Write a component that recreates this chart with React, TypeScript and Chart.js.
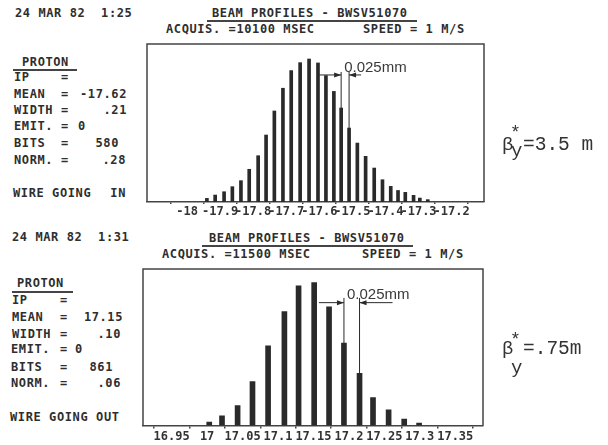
import React, { useEffect, useRef } from "react";
import { Chart, registerables } from "chart.js";

Chart.register(...registerables);

// ---------- data ----------
const topPositions = [
  -17.94, -17.915, -17.888, -17.863, -17.837, -17.812, -17.785, -17.761, -17.736, -17.71,
  -17.685, -17.658, -17.631, -17.604, -17.58, -17.556, -17.534, -17.51, -17.485, -17.46,
  -17.434, -17.409, -17.384, -17.362, -17.34, -17.315, -17.296, -17.272,
];
const topCounts = [
  2.3, 4.4, 6.5, 9.7, 13.5, 20.7, 29.3, 42.4, 57.6, 72.0,
  83.1, 88.2, 90.5, 88.0, 80.0, 70.0, 59.5, 46.8, 37.3, 28.9,
  21.5, 14.1, 9.9, 7.3, 6.1, 4.2, 2.5, 1.5,
];
const topTickValues = [-18, -17.9, -17.8, -17.7, -17.6, -17.5, -17.4, -17.3, -17.2];
const topTickLabels = ["-18", "-17.9", "-17.8", "-17.7", "-17.6", "-17.5", "-17.4", "-17.3", "-17.2"];

const bottomPositions = [
  17.003, 17.021, 17.043, 17.064, 17.086, 17.109, 17.129, 17.151, 17.172, 17.193,
  17.215, 17.234, 17.256, 17.278, 17.299,
];
const bottomCounts = [
  2.2, 6.2, 12.8, 28.1, 50.9, 72.8, 89.2, 91.3, 75.9, 52.6,
  33.4, 17.9, 10.0, 4.1, 1.5,
];
const bottomTickValues = [16.95, 17, 17.05, 17.1, 17.15, 17.2, 17.25, 17.3, 17.35];
const bottomTickLabels = ["16.95", "17", "17.05", "17.1", "17.15", "17.2", "17.25", "17.3", "17.35"];

const topMarkers = [16, 17];
const bottomMarkers = [9, 10];

// ---------- style ----------
const INK = "#2a2a2a";
const MONO = '"DejaVu Sans Mono", monospace';

type ProfileProps = {
  left: number; top: number; width: number; height: number;
  pad: { left: number; right: number; top: number; bottom: number };
  axisHeight: number; xMin: number; xMax: number;
  positions: number[]; counts: number[];
  tickValues: number[]; tickLabels: string[];
  barWidth: number; tickLength: number; tickPad: number;
  markers: number[]; markerTop: number; arrowY: number;
  arrowLeft: number; arrowRight: number; textLift: number;
};

function Profile(p: ProfileProps) {
  const ref = useRef<HTMLCanvasElement>(null);
  useEffect(() => {
    if (!ref.current) return;
    const overlay = {
      id: "frameAndMarker",
      afterDatasetsDraw(chart: any) {
        const { ctx, chartArea: a, scales } = chart;
        ctx.save();
        ctx.strokeStyle = "#444";
        ctx.lineWidth = 1.5;
        ctx.beginPath();
        ctx.moveTo(a.left, a.bottom);
        ctx.lineTo(a.left, a.top);
        ctx.lineTo(a.right, a.top);
        ctx.lineTo(a.right, a.bottom);
        ctx.stroke();

        const x1 = scales.x.getPixelForValue(p.positions[p.markers[0]]);
        const x2 = scales.x.getPixelForValue(p.positions[p.markers[1]]);
        const yTop = scales.y.getPixelForValue(p.markerTop);
        const yA = scales.y.getPixelForValue(p.arrowY);
        ctx.strokeStyle = INK;
        ctx.lineWidth = 1;
        ctx.beginPath();
        ctx.moveTo(x1, a.bottom); ctx.lineTo(x1, yTop);
        ctx.moveTo(x2, a.bottom); ctx.lineTo(x2, yTop);
        ctx.moveTo(x1 - p.arrowLeft, yA); ctx.lineTo(x1, yA);
        ctx.moveTo(x2, yA); ctx.lineTo(x2 + p.arrowRight, yA);
        ctx.stroke();
        ctx.fillStyle = INK;
        ctx.beginPath();
        ctx.moveTo(x1, yA); ctx.lineTo(x1 - 7, yA - 2.5); ctx.lineTo(x1 - 7, yA + 2.5); ctx.closePath();
        ctx.moveTo(x2, yA); ctx.lineTo(x2 + 7, yA - 2.5); ctx.lineTo(x2 + 7, yA + 2.5); ctx.closePath();
        ctx.fill();
        ctx.font = '15px "Liberation Sans", sans-serif';
        ctx.fillStyle = "#3a3a3a";
        ctx.textAlign = "left";
        ctx.textBaseline = "alphabetic";
        ctx.fillText("0.025mm", x1 + 3, yA - p.textLift);
        ctx.restore();
      },
    };

    const chart = new Chart(ref.current, {
      type: "bar",
      data: {
        datasets: [
          {
            data: p.positions.map((x, i) => ({ x, y: p.counts[i] })),
            backgroundColor: INK,
            borderWidth: 0,
            barThickness: p.barWidth,
          } as any,
        ],
      },
      options: {
        responsive: false,
        animation: false,
        devicePixelRatio: 1,
        layout: { padding: p.pad },
        plugins: { legend: { display: false }, tooltip: { enabled: false } },
        scales: {
          x: {
            type: "linear",
            min: p.xMin,
            max: p.xMax,
            afterBuildTicks: (scale: any) => {
              scale.ticks = p.tickValues.map((v) => ({ value: v }));
            },
            afterFit: (scale: any) => {
              scale.height = p.axisHeight;
            },
            grid: {
              display: true,
              drawOnChartArea: false,
              drawTicks: true,
              tickLength: p.tickLength,
              color: "#444",
              lineWidth: 1.5,
            },
            border: { display: true, color: "#444", width: 1.5 },
            ticks: {
              autoSkip: false,
              maxRotation: 0,
              minRotation: 0,
              padding: p.tickPad,
              color: "#333",
              font: { family: MONO, size: 12, weight: "bold" },
              callback: (_v: any, i: number) => p.tickLabels[i],
            },
          },
          y: { display: false, min: 0, max: 100 },
        },
      },
      plugins: [overlay],
    } as any);
    return () => chart.destroy();
  }, []);
  return (
    <canvas
      ref={ref}
      width={p.width}
      height={p.height}
      style={{ position: "absolute", left: p.left, top: p.top, width: p.width, height: p.height }}
    />
  );
}

function T({ x, y, children, size = 12, align = "left", style = {} }: any) {
  const s: any = {
    position: "absolute",
    top: y - size / 2,
    fontFamily: MONO,
    fontWeight: "bold",
    fontSize: size,
    lineHeight: `${size}px`,
    letterSpacing: "0.6px",
    color: "#2e2e2e",
    whiteSpace: "pre",
    ...style,
  };
  if (align === "right") s.right = 608 - x;
  else s.left = x;
  return <div style={s}>{children}</div>;
}

function Line({ x1, x2, y }: any) {
  return (
    <div style={{ position: "absolute", left: x1, top: y, width: x2 - x1, height: 1.5, background: "#444" }} />
  );
}

function Beta({ y, star, sub, rest }: any) {
  const f = '"Liberation Mono", monospace';
  const base: any = { position: "absolute", fontFamily: f, color: "#333", whiteSpace: "pre", lineHeight: "20px" };
  return (
    <>
      <div style={{ ...base, left: 502, top: y - 10, fontSize: 19 }}>β</div>
      <div style={{ ...base, left: 510, top: star - 6, fontSize: 18, lineHeight: "12px" }}>*</div>
      <div style={{ ...base, left: 511, top: sub - 10, fontSize: 19 }}>y</div>
      <div style={{ ...base, left: 523, top: y - 10, fontSize: 19.5 }}>{rest}</div>
    </>
  );
}

export default function App() {
  return (
    <div style={{ position: "absolute", left: 0, top: 0, width: 608, height: 445, background: "#fff", overflow: "hidden" }}>
      {/* ---- top header ---- */}
      <T x={15} y={13}>24 MAR 82  1:25</T>
      <T x={212} y={13}>BEAM PROFILES - BWSV51070</T>
      <Line x1={207} x2={417} y={20} />
      <T x={166} y={29}>ACQUIS. =10100 MSEC</T>
      <T x={363} y={29}>SPEED = 1 M/S</T>

      <T x={22} y={62}>PROTON</T>
      <Line x1={13} x2={77} y={69} />
      <T x={14} y={77}>IP</T><T x={61} y={77}>=</T>
      <T x={14} y={94}>MEAN</T><T x={61} y={94}>=</T><T x={127} y={94} align="right">-17.62</T>
      <T x={14} y={110}>WIDTH</T><T x={61} y={110}>=</T><T x={127} y={110} align="right">.21</T>
      <T x={14} y={126}>EMIT.</T><T x={61} y={126}>=</T><T x={78} y={126}>0</T>
      <T x={14} y={143}>BITS</T><T x={61} y={143}>=</T><T x={119} y={143} align="right">580</T>
      <T x={14} y={160}>NORM.</T><T x={61} y={160}>=</T><T x={126} y={160} align="right">.28</T>
      <T x={13} y={193}>WIRE GOING</T><T x={126} y={193} align="right">IN</T>

      <Profile
        left={127} top={34} width={380} height={190}
        pad={{ left: 20, right: 23, top: 10, bottom: 2 }}
        axisHeight={20} xMin={-18.0645} xMax={-17.1586}
        positions={topPositions} counts={topCounts}
        tickValues={topTickValues} tickLabels={topTickLabels}
        barWidth={3} tickLength={2} tickPad={1}
        markers={topMarkers} markerTop={82.3} arrowY={80.4}
        arrowLeft={22} arrowRight={12} textLift={3}
      />
      <Beta y={145} star={133} sub={151} rest="=3.5 m" />

      {/* ---- bottom header ---- */}
      <T x={12} y={237}>24 MAR 82  1:31</T>
      <T x={209} y={238}>BEAM PROFILES - BWSV51070</T>
      <Line x1={202} x2={413} y={245} />
      <T x={162} y={254}>ACQUIS. =11500 MSEC</T>
      <T x={362} y={254}>SPEED = 1 M/S</T>

      <T x={17} y={283}>PROTON</T>
      <Line x1={12} x2={73} y={291} />
      <T x={12} y={300}>IP</T><T x={60} y={300}>=</T>
      <T x={12} y={317}>MEAN</T><T x={60} y={317}>=</T><T x={123} y={317} align="right">17.15</T>
      <T x={12} y={334}>WIDTH</T><T x={60} y={334}>=</T><T x={121} y={334} align="right">.10</T>
      <T x={11} y={349}>EMIT.</T><T x={60} y={349}>=</T><T x={75} y={349}>0</T>
      <T x={11} y={367}>BITS</T><T x={60} y={367}>=</T><T x={113} y={367} align="right">861</T>
      <T x={11} y={383}>NORM.</T><T x={60} y={383}>=</T><T x={121} y={383} align="right">.06</T>
      <T x={10} y={417}>WIRE GOING OUT</T>

      <Profile
        left={123} top={259} width={380} height={186}
        pad={{ left: 20, right: 20, top: 10, bottom: 1.5 }}
        axisHeight={18} xMin={16.9362} xMax={17.3625}
        positions={bottomPositions} counts={bottomCounts}
        tickValues={bottomTickValues} tickLabels={bottomTickLabels}
        barWidth={5} tickLength={3} tickPad={1.3}
        markers={bottomMarkers} markerTop={81.5} arrowY={78.5}
        arrowLeft={25} arrowRight={33} textLift={4}
      />
      <Beta y={349} star={340} sub={368} rest="=.75m" />
    </div>
  );
}
